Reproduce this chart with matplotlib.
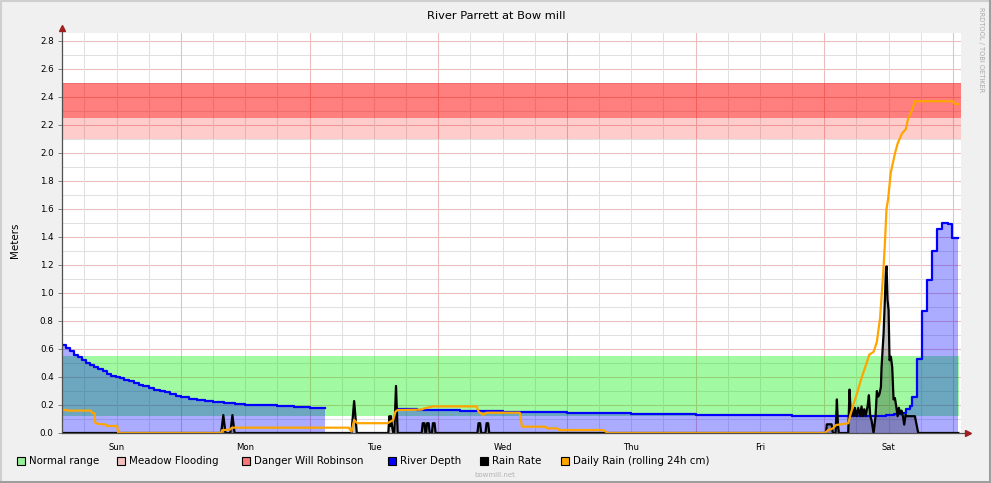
import numpy as np
import matplotlib
matplotlib.use("Agg")
import matplotlib.pyplot as plt
from matplotlib.lines import Line2D
from matplotlib.patches import Rectangle

# time axis: hours since Sunday 00:00
depth_t = [1.8, 2.5, 3.3, 4.0, 4.8, 5.5, 6.3, 7.0, 7.8, 8.6, 9.4, 10.2, 11.0, 11.8,
           12.6, 13.4, 14.3, 15.2, 16.1, 17.0, 18.0, 19.0, 20.0, 21.0, 22.0, 23.0,
           24.0, 25.5, 27.0, 28.5, 30.0, 32.0, 34.0, 36.0, 39.0, 42.0, 45.0, 48.0,
           50.9, 50.95,
           64.3, 68.0, 72.0, 76.0, 80.0, 84.0, 90.0, 96.0, 102.0, 108.0, 114.0, 120.0,
           126.0, 132.0, 138.0, 144.0, 150.0, 154.0, 155.5, 157.0, 158.5, 159.3, 160.0,
           160.3, 161.2, 162.2, 163.1, 164.0, 165.0, 166.0, 167.0, 167.9, 168.9]
depth_v = [0.63, 0.61, 0.585, 0.56, 0.54, 0.52, 0.50, 0.485, 0.47, 0.455, 0.44, 0.425, 0.41, 0.40,
           0.39, 0.38, 0.37, 0.36, 0.345, 0.335, 0.32, 0.31, 0.30, 0.29, 0.28, 0.265,
           0.255, 0.245, 0.236, 0.228, 0.222, 0.215, 0.208, 0.203, 0.198, 0.192, 0.186, 0.18,
           0.176, np.nan,
           0.17, 0.167, 0.163, 0.16, 0.156, 0.152, 0.148, 0.145, 0.141, 0.137, 0.134, 0.131,
           0.128, 0.126, 0.124, 0.122, 0.121, 0.124, 0.128, 0.133, 0.14, 0.17, 0.19,
           0.26, 0.53, 0.87, 1.09, 1.30, 1.455, 1.50, 1.49, 1.39, 1.39]

rain_t = [1.8, 31.5, 31.9, 32.3, 33.2, 33.6, 34.0,
          55.8, 56.3, 56.8, 62.68, 62.87, 63.05, 63.18, 63.37, 63.61, 63.8, 64.11, 64.42,
          68.9, 69.1, 69.4, 69.6, 69.7, 69.9, 70.2, 70.4, 70.8, 71.0, 71.3, 71.5,
          79.3, 79.5, 79.8, 80.0, 80.8, 81.0, 81.3, 81.5,
          143.8, 144.3, 144.48, 145.36, 145.6, 146.1, 146.35, 146.54, 146.72,
          148.46, 148.71, 148.96, 149.21, 149.46, 149.70, 150.02, 150.33, 150.64, 150.95,
          151.14, 151.45, 151.70, 152.07, 152.32, 152.57, 152.82, 153.19, 153.56, 153.81,
          154.06, 154.31, 154.56, 154.68, 154.87, 155.06, 155.30, 155.49, 155.62, 155.80,
          155.99, 156.17, 156.42, 156.67, 156.92, 157.17, 157.42, 157.67, 157.91, 158.16,
          158.41, 158.66, 158.91, 159.16, 159.40, 159.78, 160.27, 160.90, 161.21, 161.52,
          169.0]
rain_v = [0, 0, 0.128, 0, 0, 0.128, 0,
          0, 0.228, 0, 0, 0.12, 0.05, 0.12, 0.05, 0, 0, 0.336, 0,
          0, 0.07, 0.07, 0, 0, 0.07, 0.07, 0, 0, 0.07, 0.07, 0,
          0, 0.07, 0.07, 0, 0, 0.07, 0.07, 0,
          0, 0, 0.062, 0.062, 0, 0, 0.24, 0.06, 0,
          0, 0.31, 0.12, 0.17, 0.12, 0.18, 0.12, 0.18, 0.12, 0.19,
          0.12, 0.17, 0.12, 0.19, 0.27, 0.12, 0.09, 0.0, 0.12, 0.30,
          0.26, 0.28, 0.33, 0.47, 0.59, 0.71, 0.95, 1.16, 1.19, 0.95,
          0.88, 0.52, 0.545, 0.47, 0.24, 0.25, 0.19, 0.12, 0.18, 0.14,
          0.16, 0.12, 0.06, 0.13, 0.12, 0.12, 0.12, 0.12, 0.06, 0,
          0]

daily_t = [1.8, 2.6, 2.7, 7.2, 7.4, 7.9, 8.0, 8.5, 10.0, 10.2, 12.1, 12.3,
           31.5, 31.7, 33.2, 33.5, 55.3, 55.8, 56.3, 56.9, 62.5, 63.0, 63.6, 64.0, 64.4,
           68.9, 69.3, 70.5, 71.1, 79.2, 79.5, 80.4, 81.0, 87.2, 87.6, 92.0, 92.3, 94.2,
           94.5, 102.8, 103.6, 144.1, 144.7, 145.6, 146.2, 148.5, 148.8, 149.4, 150.0,
           151.0, 151.9, 152.4, 153.2, 153.8, 154.4, 155.0, 155.3, 155.6, 155.9, 156.4,
           157.2, 157.7, 158.5, 159.2, 159.6, 160.4, 160.9, 168.0, 168.4, 169.0]
daily_v = [0.165, 0.165, 0.16, 0.16, 0.145, 0.14, 0.075, 0.065, 0.06, 0.05, 0.05, 0.0,
           0.0, 0.02, 0.025, 0.038, 0.038, 0.01, 0.093, 0.07, 0.07, 0.08, 0.093, 0.152, 0.164,
           0.167, 0.175, 0.185, 0.19, 0.19, 0.152, 0.13, 0.145, 0.145, 0.045, 0.045, 0.033, 0.033,
           0.021, 0.021, 0.0, 0.0, 0.02, 0.033, 0.057, 0.07, 0.12, 0.2, 0.27,
           0.40, 0.50, 0.56, 0.58, 0.65, 0.82, 1.15, 1.35, 1.60, 1.67, 1.86,
           2.0, 2.07, 2.14, 2.17, 2.24, 2.31, 2.37, 2.37, 2.35, 2.35]

day_names = ["Sun", "Mon", "Tue", "Wed", "Thu", "Fri", "Sat"]
day_noon = [12, 36, 60, 84, 108, 132, 156]

normal_range = (0.12, 0.55)
meadow_flooding = (2.10, 2.25)
danger = (2.25, 2.50)
band_t = [1.8, 169.1]

legend_labels = ["Normal range", "Meadow Flooding", "Danger Will Robinson",
                 "River Depth", "Rain Rate", "Daily Rain (rolling 24h cm)"]
legend_colors = [("#00f000", 0.37), ("#ff0000", 0.2), ("#ff0000", 0.5),
                 ("#0000ff", 1.0), ("#000000", 1.0), ("#ffa500", 1.0)]
legend_x = [16.7, 117.3, 242.3, 388.3, 480, 561]

W, H = 991, 483
fig = plt.figure(figsize=(W / 100, H / 100), dpi=100, facecolor="#f0f0f0")
ax = fig.add_axes([62 / W, 50 / H, 899 / W, 400 / H])
ax.set_facecolor("white")
ax.set_xlim(1.81, 169.5)
ax.set_ylim(0, 400 / 140)
for s in ax.spines.values():
    s.set_visible(False)

# grid
for i in range(1, 29):
    ax.axhline(i * 0.1, color="#ebbcbc" if i % 2 == 0 else "#e0e0e0", lw=0.75, zorder=0.5)
for h in range(6, 170, 6):
    ax.axvline(h, color="#ebbcbc" if h % 24 == 0 else "#e0e0e0", lw=0.75, zorder=0.5)

# bands
ax.fill_between(band_t, *normal_range, color="#00f000", alpha=0.37, lw=0, zorder=1)
ax.fill_between([1.81, 169.5], *meadow_flooding, color="#ff0000", alpha=0.2, lw=0, zorder=1)
ax.fill_between([1.81, 169.5], *danger, color="#ff0000", alpha=0.5, lw=0, zorder=1)

# river depth
ax.fill_between(depth_t, 0, depth_v, step="post", color="#0000ff", alpha=0.33, lw=0, zorder=2)
ax.plot(depth_t, depth_v, drawstyle="steps-post", color="#0000ff", lw=1.6, zorder=4)

# rain rate
ax.fill_between(rain_t, 0, rain_v, color="black", alpha=0.25, lw=0, zorder=3)
ax.plot(rain_t, rain_v, color="black", lw=1.6, zorder=5)

# daily rain
ax.plot(daily_t, daily_v, color="#ffa500", lw=1.6, zorder=6)

# axes with arrows
ax.plot([0, 0], [0, 1.011], transform=ax.transAxes, color="#505050", lw=0.9, clip_on=False, zorder=7)
ax.plot([0, 1.0056], [0, 0], transform=ax.transAxes, color="#505050", lw=0.9, clip_on=False, zorder=7)
ax.plot([0], [1.0125], marker="^", ms=4, color="#a02020", transform=ax.transAxes, clip_on=False, zorder=8)
ax.plot([1.0078], [0], marker=">", ms=4, color="#a02020", transform=ax.transAxes, clip_on=False, zorder=8)

yt = np.arange(0, 2.81, 0.2)
ax.set_yticks(yt, [f"{v:.1f}" for v in yt])
ax.tick_params(axis="y", length=3, width=0.7, color="#808080", labelsize=6.3, pad=3)
ax.set_xticks(day_noon, day_names)
ax.tick_params(axis="x", length=0, labelsize=6.1, pad=7)

fig.text(496 / W, 1 - 16 / H, "River Parrett at Bow mill", ha="center", va="center", fontsize=8.2)
fig.text(15 / W, 1 - 240 / H, "Meters", rotation=90, ha="center", va="center", fontsize=7.4)
fig.text(981 / W, 1 - 7 / H, "RRDTOOL / TOBI OETIKER", rotation=270, ha="center", va="top",
         fontsize=4.8, color="#aaaaaa")
fig.text(495 / W, 1 - 475 / H, "bowmill.net", ha="center", va="center", fontsize=5, color="#b4b4b4")

# legend
for lx, lab, (c, a) in zip(legend_x, legend_labels, legend_colors):
    fig.add_artist(Rectangle((lx / W, (H - 465) / H), 8 / W, 8 / H, transform=fig.transFigure,
                             facecolor=matplotlib.colors.to_rgba(c, a), edgecolor="black", lw=0.8))
    fig.text((lx + 12) / W, 1 - 461 / H, lab, va="center", ha="left", fontsize=7.4)

# frame shading
fig.add_artist(Line2D([1 / W, 1 / W, 1], [0, 1 - 1 / H, 1 - 1 / H], transform=fig.transFigure,
                      color="#cfcfcf", lw=1.5))
fig.add_artist(Line2D([0, 1 - 1.5 / W, 1 - 1.5 / W], [1.5 / H, 1.5 / H, 1], transform=fig.transFigure,
                      color="#9e9e9e", lw=2.2))

fig.savefig("out.png", dpi=100, facecolor=fig.get_facecolor())
